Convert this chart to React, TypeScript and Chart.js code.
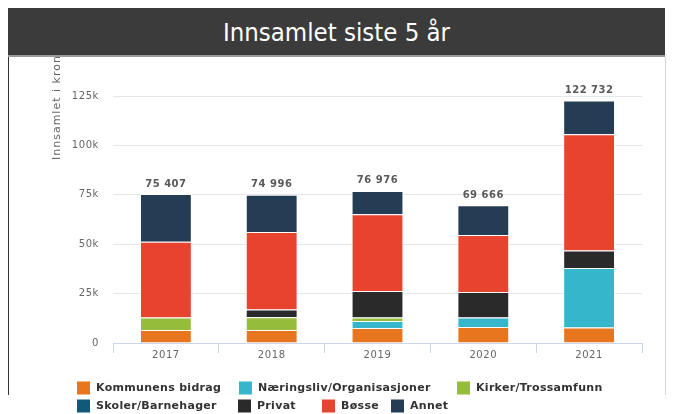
import React, { useEffect, useRef } from 'react';
import { Chart, registerables } from 'chart.js';

Chart.register(...registerables);

// ---- Data ----
const years = ['2017', '2018', '2019', '2020', '2021'];
const seriesNames = [
  'Kommunens bidrag',
  'Næringsliv/Organisasjoner',
  'Kirker/Trossamfunn',
  'Skoler/Barnehager',
  'Privat',
  'Bøsse',
  'Annet',
];
const kommunensBidrag = [6600, 6600, 7600, 8100, 7800];
const naeringsliv = [0, 0, 3500, 4800, 30200];
const kirker = [6300, 6400, 1800, 0, 0];
const skoler = [0, 0, 0, 0, 0];
const privat = [0, 4000, 13400, 12900, 8800];
const bosse = [38400, 39200, 38800, 28800, 58900];
const annet = [24107, 18796, 11876, 15066, 17032];
const yTickValues = [0, 25000, 50000, 75000, 100000, 125000];

const seriesValues = [kommunensBidrag, naeringsliv, kirker, skoler, privat, bosse, annet];
const seriesColors = ['#e8761e', '#36b6cb', '#95bd3a', '#0e5a78', '#2a2a2a', '#e8432e', '#243d55'];

const FONT = '"DejaVu Sans", Verdana, sans-serif';

const formatTotal = (n: number) => String(n).replace(/\B(?=(\d{3})+(?!\d))/g, ' ');

// legend layout (canvas coords): rows of [datasetIndex, x]
const legendRows: { y: number; items: [number, number][] }[] = [
  { y: 332, items: [[0, 69], [1, 231], [2, 449]] },
  { y: 350, items: [[3, 69], [4, 230], [5, 314], [6, 383]] },
];

const extrasPlugin = {
  id: 'extras',
  beforeDraw(chart: any) {
    chart.ctx.letterSpacing = '0.6px';
  },
  afterDatasetsDraw(chart: any) {
    const ctx = chart.ctx;
    const xs = chart.scales.x;
    const ys = chart.scales.y;
    ctx.save();
    ctx.letterSpacing = '0.5px';
    ctx.font = `bold 10px ${FONT}`;
    ctx.fillStyle = '#595959';
    ctx.textAlign = 'center';
    ctx.textBaseline = 'middle';
    years.forEach((_, i) => {
      const total = seriesValues.reduce((s, arr) => s + arr[i], 0);
      const x = xs.getPixelForValue(i);
      const y = ys.getPixelForValue(total);
      ctx.fillText(formatTotal(total), x, y - 10);
    });
    ctx.restore();
  },
  afterDraw(chart: any) {
    const ctx = chart.ctx;
    // y-axis title
    ctx.save();
    ctx.letterSpacing = '1px';
    ctx.font = `11px ${FONT}`;
    ctx.fillStyle = '#666';
    ctx.translate(49, 104);
    ctx.rotate(-Math.PI / 2);
    ctx.textAlign = 'left';
    ctx.textBaseline = 'middle';
    ctx.fillText('Innsamlet i kroner', 0, 0);
    ctx.restore();

    // legend
    ctx.save();
    ctx.letterSpacing = '0.3px';
    ctx.font = `bold 11px ${FONT}`;
    ctx.textAlign = 'left';
    ctx.textBaseline = 'middle';
    legendRows.forEach((row) => {
      row.items.forEach(([di, x]) => {
        const ds = chart.data.datasets[di];
        ctx.fillStyle = ds.backgroundColor;
        ctx.fillRect(x, row.y - 6.5, 13, 13);
        ctx.fillStyle = '#333';
        ctx.fillText(ds.label, x + 19, row.y + 0.5);
      });
    });
    ctx.restore();
  },
};

export default function App() {
  const canvasRef = useRef<HTMLCanvasElement | null>(null);

  useEffect(() => {
    if (!canvasRef.current) return;
    const chart = new Chart(canvasRef.current, {
      type: 'bar',
      data: {
        labels: years,
        datasets: seriesNames.map((name, i) => ({
          label: name,
          data: seriesValues[i],
          backgroundColor: seriesColors[i],
          borderColor: '#ffffff',
          borderWidth: 1,
          barPercentage: 0.49,
          categoryPercentage: 1,
        })),
      },
      options: {
        animation: false,
        responsive: true,
        maintainAspectRatio: false,
        layout: { padding: { left: 0, right: 23, top: 40, bottom: 41 } },
        plugins: {
          legend: { display: false },
          tooltip: { enabled: false },
          title: { display: false },
        },
        scales: {
          x: {
            stacked: true,
            grid: {
              drawOnChartArea: false,
              drawTicks: true,
              tickLength: 10,
              color: '#ccd6eb',
              offset: true,
            },
            border: { color: '#ccd6eb' },
            ticks: { color: '#666', font: { family: FONT, size: 10 }, padding: -4 },
            afterFit: (s: any) => {
              s.height = 30;
            },
          },
          y: {
            stacked: true,
            min: 0,
            max: 125000,
            afterBuildTicks: (s: any) => {
              s.ticks = yTickValues.map((v) => ({ value: v }));
            },
            ticks: {
              color: '#666',
              font: { family: FONT, size: 10 },
              padding: 14,
              callback: (v: any) => (Number(v) === 0 ? '0' : `${Number(v) / 1000}k`),
            },
            grid: { color: '#e6e6e6', drawTicks: false },
            border: { display: false },
            afterFit: (s: any) => {
              s.width = 105;
            },
          },
        },
      },
      plugins: [extrasPlugin],
    });
    return () => chart.destroy();
  }, []);

  return (
    <div
      style={{
        position: 'fixed',
        left: 0,
        top: 0,
        width: 673,
        height: 414,
        background: '#fff',
        overflow: 'hidden',
      }}
    >
      <div
        style={{
          position: 'absolute',
          left: 8,
          top: 8,
          width: 657,
          height: 49,
          boxSizing: 'border-box',
          background: '#3b3b3b',
          borderBottom: '2px solid #9a9a9a',
          color: '#fff',
          display: 'flex',
          alignItems: 'center',
          justifyContent: 'center',
          fontFamily: '"DejaVu Sans Condensed", "DejaVu Sans", sans-serif',
          fontSize: 25.5,
        }}
      >
        Innsamlet siste 5 år
      </div>
      <div
        style={{
          position: 'absolute',
          left: 8,
          top: 57,
          width: 658,
          height: 338,
          boxSizing: 'border-box',
          borderLeft: '1px solid #333',
          borderRight: '1px solid #d8d8d8',
        }}
      />
      <div style={{ position: 'absolute', left: 8, top: 56, width: 657, height: 358 }}>
        <canvas ref={canvasRef} />
      </div>
    </div>
  );
}
